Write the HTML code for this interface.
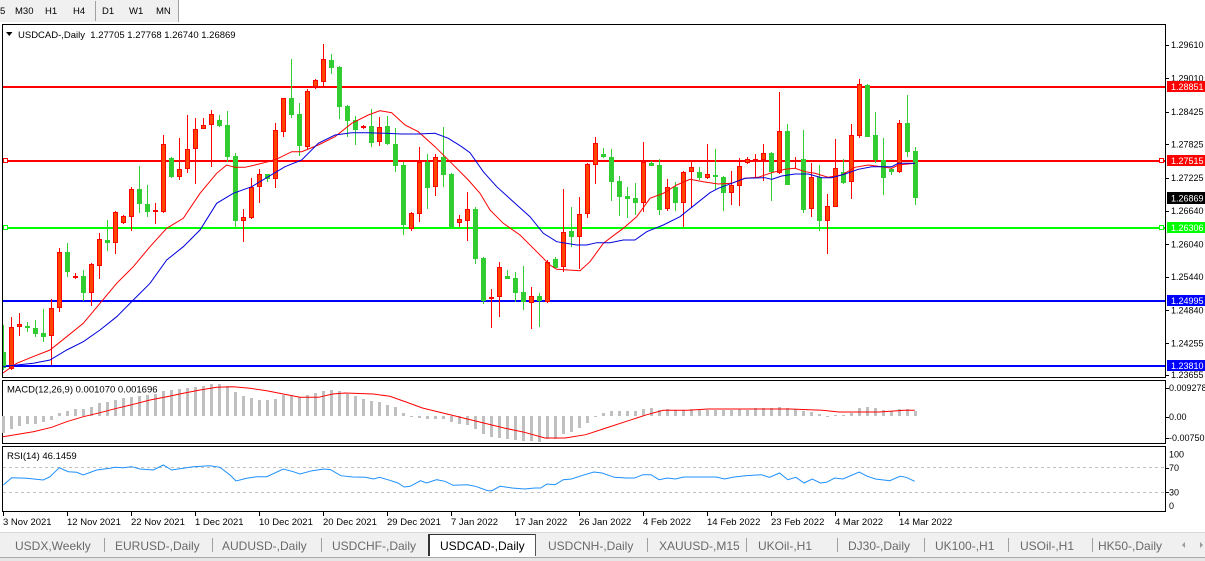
<!DOCTYPE html>
<html><head><meta charset="utf-8">
<style>
html,body{margin:0;padding:0;width:1205px;height:561px;overflow:hidden;background:#fff}
svg{display:block}
text{font-family:"Liberation Sans",sans-serif}
</style></head>
<body>
<svg id="s" width="1205" height="561" viewBox="0 0 1205 561" xmlns="http://www.w3.org/2000/svg">
<defs><clipPath id="mc"><rect x="3" y="25" width="1162" height="352"/></clipPath></defs>
<!-- toolbar -->
<rect x="0" y="0" width="1205" height="22" fill="#ffffff"/>
<rect x="0" y="0" width="178" height="22" fill="#f0f0f0"/>
<rect x="95" y="1" width="1" height="20" fill="#a0a0a0"/>
<rect x="178" y="0" width="1" height="22" fill="#a0a0a0"/>
<g font-size="9.5" fill="#000">
<text x="0" y="14">5</text><text x="15" y="14">M30</text><text x="45" y="14">H1</text><text x="73" y="14">H4</text>
<text x="102" y="14">D1</text><text x="129" y="14">W1</text><text x="156" y="14">MN</text>
</g>
<!-- panels -->
<g shape-rendering="crispEdges" fill="none" stroke="#000" stroke-width="1">
<rect x="2.5" y="24.5" width="1163" height="353"/>
<rect x="2.5" y="380.5" width="1163" height="63"/>
<rect x="2.5" y="446.5" width="1163" height="65"/>
</g>
<!-- horizontal lines -->
<g shape-rendering="crispEdges">
<rect x="3" y="86" width="1162" height="2" fill="#ff0000"/>
<rect x="3" y="160" width="1162" height="2" fill="#ff0000"/>
<rect x="3" y="227" width="1162" height="2" fill="#00ff00"/>
<rect x="3" y="300" width="1162" height="2" fill="#0000ff"/>
<rect x="3" y="365" width="1162" height="2" fill="#0000ff"/>
<rect x="3.5" y="158.5" width="4" height="4" fill="#fff" stroke="#ff0000"/>
<rect x="1159.5" y="158.5" width="4" height="4" fill="#fff" stroke="#ff0000"/>
<rect x="3.5" y="225.5" width="4" height="4" fill="#fff" stroke="#00ff00"/>
<rect x="1159.5" y="225.5" width="4" height="4" fill="#fff" stroke="#00ff00"/>
</g>
<g id="cand" clip-path="url(#mc)" shape-rendering="crispEdges"></g>
<g clip-path="url(#mc)" fill="none" stroke-width="1">
<polyline stroke="#ff0000" points="3,373 16.7,363.3 33,356.7 50,350 66.7,336.7 83.3,323.3 100,303.3 116.7,283.3 133.3,266.7 150,246.7 166.7,228.3 183.3,218.3 200,193.3 216.7,173.3 226.7,165 235,167.3 245,167.3 255,165 268.3,161.7 278.3,158.3 291.7,151.7 301.7,151.7 318.3,145 335,136.7 351.7,123.3 368.3,115 380,110.7 391.7,112.7 405,125 418.3,131.7 435,146.7 451.7,163.3 468.3,180 480,193.3 490,210 503.3,223.3 520,235 536.7,251.7 550,265 556.7,269.3 580,270.7 590,261.7 603.3,243.3 613.3,235.7 623.3,228.3 636.7,216.7 650,198.3 663.3,193.3 676.7,185 690,179.3 703.3,181.7 718.3,184 731.7,183.3 745,178.3 758.3,177.3 771.7,172.7 785,169.3 795,168.3 805,171.7 815,173.3 828.3,177.3 841.7,175 855,167.3 868.3,165 881.7,166.7 891.7,168.3 898.3,165 915,163.3"/>
<polyline stroke="#0000dd" points="3,366.7 16.7,365 33.3,363.3 50,360 66.7,350 83.3,341.7 100,330 116.7,316.7 133.3,300 150,283.3 166.7,260 183.3,246.7 200,230 216.7,203.3 233.3,193.3 251.7,186.7 268.3,176.7 285,166.7 301.7,160 318.3,143.3 335,135 351.7,132.7 368.3,132.7 385,133.3 401.7,134 418.3,134 435,133.3 448.3,138.3 461.7,146.7 470,152.7 483.3,171.7 496.7,186.7 513.3,201.7 530,216.7 543.3,233.3 556.7,241.7 576.7,245 586.7,245 596.7,242.7 610,242.7 623.3,240 635,240 646.7,231.7 663.3,225 680,216.7 696.7,203.3 710,192.7 718.3,188.3 731.7,183.3 745,178.3 765,177.7 771.7,179.3 781.7,176 795,174 808.3,174 821.7,177.7 831.7,177.7 845,174 858.3,169.3 871.7,166.7 891.7,166.7 898.3,163.3 915,163.3"/>
</g>
<!-- title -->
<polygon points="6,32 12.5,32 9.25,36" fill="#000"/>
<text x="18" y="38" font-size="9.5" fill="#000" xml:space="preserve">USDCAD-,Daily  1.27705 1.27768 1.26740 1.26869</text>
<!-- right price axis -->
<g id="ticks" shape-rendering="crispEdges" fill="#000"></g>
<g font-size="9" fill="#000">
<text x="1171" y="48">1.29610</text>
<text x="1171" y="81.5">1.29010</text>
<text x="1171" y="115">1.28425</text>
<text x="1171" y="147.3">1.27825</text>
<text x="1171" y="181">1.27225</text>
<text x="1171" y="214">1.26640</text>
<text x="1171" y="247.3">1.26040</text>
<text x="1171" y="280">1.25440</text>
<text x="1171" y="313.3">1.24840</text>
<text x="1171" y="346.6">1.24255</text>
<text x="1171" y="378">1.23655</text>
</g>
<g shape-rendering="crispEdges">
<rect x="1167" y="81" width="38" height="11" fill="#ff0000"/>
<rect x="1167" y="155" width="38" height="11" fill="#ff0000"/>
<rect x="1167" y="192" width="38" height="12" fill="#000000"/>
<rect x="1167" y="222" width="38" height="11" fill="#00ff00"/>
<rect x="1167" y="295" width="38" height="11" fill="#0000ff"/>
<rect x="1167" y="360" width="38" height="11" fill="#0000ff"/>
</g>
<g font-size="9" fill="#fff">
<text x="1171" y="90">1.28851</text>
<text x="1171" y="164">1.27515</text>
<text x="1171" y="201.3">1.26869</text>
<text x="1171" y="231">1.26306</text>
<text x="1171" y="304">1.24995</text>
<text x="1171" y="369">1.23810</text>
</g>
<!-- MACD -->
<g id="hist" shape-rendering="crispEdges" fill="#c0c0c0"></g>
<polyline fill="none" stroke="#ff0000" stroke-width="1" points="3,436.7 33.3,431.7 51.7,427.3 66.7,421.7 83.3,416.7 100,412.7 116.7,408.3 133.3,404.3 150,400 166.7,396.7 183.3,393.3 200,390 216.7,387.3 233.3,386.7 250,388.3 266.7,390.7 283.3,394 300,397.3 318.4,397.3 332.7,394 344.9,393 373.5,394 389.8,396.3 406.1,402 422.4,408 442.9,413 463.3,418 483.7,423 504.1,428 524.5,432.3 544.9,438 565.3,438 585.7,434.7 606.1,428 626.5,421.3 646.9,414.7 663.3,410.3 687.8,410.3 708.2,409 789.8,409 822.4,410.3 838.8,412 879.6,412 904.1,410.3 914.7,410.3"/>
<text x="7" y="392.5" font-size="9.5" fill="#000">MACD(12,26,9) 0.001070 0.001696</text>
<g font-size="9" fill="#000">
<text x="1169" y="391">0.009278</text>
<text x="1169" y="420">0.00</text>
<text x="1169" y="441">-0.00750</text>
</g>
<!-- RSI -->
<g stroke="#c0c0c0" stroke-dasharray="3,3" shape-rendering="crispEdges">
<line x1="3" y1="467.5" x2="1165" y2="467.5"/>
<line x1="3" y1="492.5" x2="1165" y2="492.5"/>
</g>
<polyline fill="none" stroke="#1e90ff" stroke-width="1" points="3.3,485 11.7,477.7 26.7,478.3 43.3,480 50,476.7 59.3,467.7 68.3,471.7 76.7,472.3 83.3,475 96.7,470 110,468.3 115,467.3 123.3,467.7 131.7,466.7 140,469 153.3,470 163.3,465 171.7,470 183.3,468.3 193.3,466.7 210,465.7 220,467.3 230,475 236,481 246.7,478.3 256.7,476.7 266.7,476.7 283.3,469 293.3,471.7 300,474 312.2,470.7 324.5,469 330.6,469.7 340.8,475.7 353.1,477 365.3,477.3 373.5,479 379.6,477.3 389.8,480.3 398,483 404.1,487 410.2,486.3 420.4,480.7 426.5,483 436.7,479.7 444.9,481.3 453.1,485.3 467.3,484.7 475.5,486.3 487.8,490.7 491.8,490.7 500,486.3 512.2,488 524.5,489 534.7,488 540.8,488 546.9,484 555.1,484.7 563.3,479.7 571.4,479 581.6,475.7 593.9,472 602,473 614.3,477.3 626.5,478 634.7,478 642.9,474.7 651,474.7 659.2,479.7 667.3,478 675.5,479 683.7,477 716.3,477 724.5,479 732.7,477.3 744.9,475.7 761.2,474.7 769.4,477.3 779.6,473 787.8,479.7 795.9,477.3 804.1,483 812.2,479 820.4,483 826.5,482.3 834.7,478 842.9,479 859.2,472 867.3,476.3 875.5,479 889.8,480.7 900,476.3 906.1,477.3 914.7,481.3"/>
<text x="7" y="459" font-size="9.5" fill="#000">RSI(14) 46.1459</text>
<g font-size="9" fill="#000">
<text x="1169" y="457.5">100</text>
<text x="1169" y="471">70</text>
<text x="1169" y="495.5">30</text>
<text x="1169" y="509">0</text>
</g>
<!-- date axis -->
<g id="dticks" shape-rendering="crispEdges" fill="#000"></g>
<g font-size="9.5" fill="#000">
<text x="3" y="525">3 Nov 2021</text>
<text x="67" y="525">12 Nov 2021</text>
<text x="131" y="525">22 Nov 2021</text>
<text x="195" y="525">1 Dec 2021</text>
<text x="259" y="525">10 Dec 2021</text>
<text x="323" y="525">20 Dec 2021</text>
<text x="387" y="525">29 Dec 2021</text>
<text x="451" y="525">7 Jan 2022</text>
<text x="515" y="525">17 Jan 2022</text>
<text x="579" y="525">26 Jan 2022</text>
<text x="643" y="525">4 Feb 2022</text>
<text x="707" y="525">14 Feb 2022</text>
<text x="771" y="525">23 Feb 2022</text>
<text x="835" y="525">4 Mar 2022</text>
<text x="899" y="525">14 Mar 2022</text>
</g>
<!-- tab bar -->
<g shape-rendering="crispEdges">
<rect x="0" y="532" width="1205" height="25" fill="#f0f0f0"/>
<rect x="0" y="532" width="1205" height="1" fill="#d8d8d8"/>
<rect x="0" y="557" width="1205" height="4" fill="#e6e6e6"/>
<rect x="0" y="557" width="1205" height="1" fill="#a8a8a8"/>
<rect x="428" y="534" width="108" height="23" fill="#ffffff"/>
<rect x="428" y="534" width="108" height="1" fill="#333"/>
<rect x="428" y="534" width="2" height="22" fill="#333"/>
<rect x="535" y="534" width="1" height="22" fill="#555"/>
<g fill="#a0a0a0">
<rect x="104" y="538" width="1" height="14"/>
<rect x="212" y="538" width="1" height="14"/>
<rect x="321" y="538" width="1" height="14"/>
<rect x="647" y="538" width="1" height="14"/>
<rect x="746" y="538" width="1" height="14"/>
<rect x="837" y="538" width="1" height="14"/>
<rect x="924" y="538" width="1" height="14"/>
<rect x="1008" y="538" width="1" height="14"/>
<rect x="1092" y="538" width="1" height="14"/>
</g>
</g>
<g font-size="12" fill="#6a6a6a">
<text x="15" y="550">USDX,Weekly</text>
<text x="115" y="550">EURUSD-,Daily</text>
<text x="222" y="550">AUDUSD-,Daily</text>
<text x="332" y="550">USDCHF-,Daily</text>
<text x="440" y="550" fill="#000">USDCAD-,Daily</text>
<text x="548" y="550">USDCNH-,Daily</text>
<text x="659" y="550">XAUUSD-,M15</text>
<text x="758" y="550">UKOil-,H1</text>
<text x="848" y="550">DJ30-,Daily</text>
<text x="935" y="550">UK100-,H1</text>
<text x="1020" y="550">USOil-,H1</text>
<text x="1098" y="550">HK50-,Daily</text>
</g>
<polygon points="1185,542 1185,548 1182,545" fill="#999"/>
<polygon points="1200,542 1200,548 1203,545" fill="#999"/>
</svg>
<script>
(function(){
var NS="http://www.w3.org/2000/svg";
function R(g,x,y,w,h,f,s){var r=document.createElementNS(NS,"rect");r.setAttribute("x",x);r.setAttribute("y",y);r.setAttribute("width",w);r.setAttribute("height",h);r.setAttribute("fill",f);if(s){r.setAttribute("stroke",s);r.setAttribute("stroke-width","1");}g.appendChild(r);}
var C=[
[0,'g',325,352,368,370],[1,'r',316.7,326.7,369,370],[2,'r',312.7,324,327.3,336],[3,'g',321.7,326,328.3,331.7],
[4,'g',320,328.3,334,337.3],[5,'g',309.3,332.7,336.7,341.7],[6,'r',299.3,308.3,336,365],[7,'r',248.3,252.3,308.3,311.7],
[8,'g',242.7,252.3,271.7,276.7],[9,'r',272.7,275.7,277.7,279.3],[10,'g',270,275.7,293.3,300.7],[11,'r',262.7,264.3,293.3,306],
[12,'r',232.7,239.3,265.7,279.3],[13,'g',220,240,243.3,250.7],[14,'r',211,212.3,243.3,254.3],[15,'r',215,216,223.3,224],
[16,'r',186.7,189.3,216.7,230.7],[17,'g',166,189.3,204.3,212.7],[18,'g',185,204,211.7,216.7],[19,'r',203.3,210,211.7,224],
[20,'r',135,144.3,211.7,213.3],[21,'g',156.7,157.7,176.7,178.3],[22,'r',138.3,169.3,176.7,180],[23,'r',115,149,169.3,172.7],
[24,'r',118.3,129,149.3,184],[25,'r',118.3,125,129.3,129.3],[26,'r',110,114.3,125.3,166.7],[27,'g',115,120,125.7,126.7],
[28,'g',111,125,156.7,161.7],[29,'g',153.3,156,220.7,226.7],[30,'r',209.3,217.3,220.7,241.7],[31,'r',178.3,187.3,217.7,219],
[32,'r',169.3,174.3,187.3,202.7],[33,'g',174,174,179,181.7],[34,'r',123.3,130,179.3,187.7],[35,'r',97.7,98.3,131.7,136.7],
[36,'g',59,98.3,115,118.3],[37,'g',103.3,114,146,156],[38,'r',89,91,146.7,149],[39,'r',79.3,80,86.7,89],
[40,'r',44,59.3,81.7,86.7],[41,'g',54,60,67.7,74],[42,'g',66,66.7,106.7,119.3],[43,'g',105,106,120.7,136.7],
[44,'g',116,120,130,145],[45,'r',125,126,127.7,129],[46,'g',109.3,126.3,142.7,147.3],[47,'r',117.3,127.3,141.7,146],
[48,'g',116,126.3,144.3,145],[49,'g',128.3,144.3,165.7,171.7],[50,'g',161.7,165,225,235],[51,'r',211.7,213.3,229.3,230.7],
[52,'r',147.3,161.7,214.3,221.7],[53,'g',154,161.7,188.3,209],[54,'r',154,157.3,187.3,195.7],[55,'g',127.3,156.7,175,187.3],
[56,'g',173,174,227.3,228.3],[57,'r',215,219.3,223.3,226.7],[58,'r',192.3,209.3,220.7,240.7],[59,'g',207.3,209.3,259,264.3],
[60,'g',257.3,258.3,300.7,304.3],[61,'r',289.3,297.3,299.3,327.7],[62,'r',262.3,267.3,296.7,317.3],[63,'g',270,276,279,279.3],
[64,'g',272.3,278.3,292.7,301.7],[65,'g',266,292.3,302.3,310],[66,'r',287.3,295.7,303.3,329.3],[67,'g',293.3,296,301,327.3],
[68,'r',260,261.7,301.7,302.7],[69,'g',257.3,259.3,267.7,268.3],[70,'r',189.3,232.3,267.3,271.7],[71,'g',206.7,231,236.7,247.3],
[72,'r',197.3,214.3,237.3,269.3],[73,'r',162.7,164.3,214.3,218.3],[74,'r',137.3,143.3,165.3,184],[75,'g',147.7,154,157.3,157.7],
[76,'g',149,157.3,181.7,200.7],[77,'g',176,181,196.7,216],[78,'g',186.7,196,198.7,218.3],[79,'g',182.7,197.7,202.7,215],
[80,'r',142.3,161.7,202.7,211.7],[81,'g',161,163.3,165.7,166],[82,'g',159.3,165,210,215],[83,'r',179.3,187.3,209.3,211],
[84,'g',182.3,187,203.3,210.7],[85,'r',170.7,171.7,203.3,227.3],[86,'r',161.7,167.3,172.3,207.7],[87,'g',166.7,172.3,177.7,180],
[88,'r',144.3,174.3,177.7,179.3],[89,'g',149,175,176.7,190],[90,'g',175.7,177.3,192.7,211],[91,'r',171,185.3,192.7,205],
[92,'r',158.3,166,185.7,206],[93,'r',157,159.3,163.3,164],[94,'r',154,159.3,160.7,178.3],[95,'r',144,153.3,160,180.7],
[96,'g',151.7,153.3,171.7,201],[97,'r',91.7,131,172.7,174],[98,'g',124,131,185,185],[99,'r',157.3,160,162.3,167.7],
[100,'g',130,159.3,210,212.7],[101,'r',163.3,177.3,209.3,216.7],[102,'g',165,176.7,220.7,231],[103,'r',194,206,220.7,254],
[104,'r',139,168.3,207.3,207.3],[105,'g',159.3,172.3,182.7,184],[106,'r',124,135.3,181.7,199],[107,'r',79,84,136,137.7],
[108,'g',84,85,136.7,137],[109,'g',112.3,135,160,162.7],[110,'g',137.7,160,177.7,195],[111,'g',168.3,169.3,171.7,175],
[112,'r',120,123.3,171.7,172.7],[113,'g',95,123.3,151.7,157.3],[114,'g',146.7,151,197.7,205]];
var g=document.getElementById("cand");
C.forEach(function(c){
 var x=3+8*c[0], hi=Math.round(c[2]), bt=Math.round(c[3]), bb=Math.round(c[4]), lo=Math.round(c[5]);
 if(bb-bt<2) bb=bt+2;
 if(c[1]=='r'){
  R(g,x,hi,1,Math.max(lo-hi,1),"#ff0000");
  R(g,x-1.5,bt+0.5,4,bb-bt-1,"#ff4500","#ff0000");
 } else {
  R(g,x,hi,1,Math.max(lo-hi,1),"#32cd32");
  R(g,x-2,bt,5,bb-bt,"#32cd32");
 }
});
var H=[432.7,429,426,424.3,424,422.3,420,413.3,410.7,409,409,406.7,403.3,401.7,400,398.3,396.7,395.7,395,394,391,390,389.3,387.7,386.7,385.7,384,384,385.7,391.7,396,397.7,400,400,399,395,395.7,396.5,394.7,393,390.7,389.7,391.3,393.7,396.3,398.7,401.3,402.3,404.7,407.3,413,417,418,418.7,418.7,418.7,422.3,423.7,425.3,428.7,433.7,437,438,439,439.7,440.7,440.7,442,439,438.7,434,432,428,423,416.7,413,411.3,411.3,411.3,411.3,409,408,409.7,409,409.7,409.7,409,409.7,409.7,409.7,409.7,409.7,409,409.7,408,408,408,407.3,408,409,411.3,412,414,416.7,415,414.7,413,408,407.3,408,410.3,411.3,409,409,411.3];
var hg=document.getElementById("hist"), Z=416;
H.forEach(function(v,i){var t=Math.round(v);var y=Math.min(t,Z),h=Math.abs(t-Z);if(h<1)h=1;R(hg,2+8*i,y,3,h,"#c0c0c0");});
var tk=document.getElementById("ticks");
[44.7,78.3,111.7,144,177.7,210.7,244,276.7,310,343.3,375,416.7,387.7,437.7,467.7,492.3].forEach(function(y){R(tk,1166,Math.round(y),3,1,"#000");});
var dt=document.getElementById("dticks");
for(var k=0;k<15;k++){R(dt,3+64*k,512,1,4,"#000");}
})();
</script>
</body></html>
